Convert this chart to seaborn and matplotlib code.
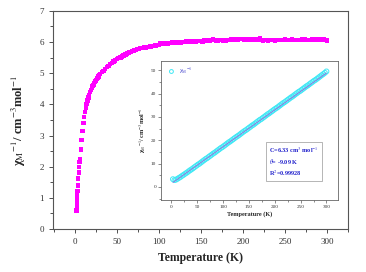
import matplotlib

matplotlib.use("Agg")
import matplotlib.pyplot as plt
import pandas as pd
import seaborn as sns
from matplotlib.ticker import MultipleLocator

# main curve: T (K) and y value
main_T = ([2, 2.2, 2.4, 2.6, 2.8, 3, 3.5, 4, 4.5, 5, 5.5, 6, 7, 8, 9]
          + list(range(10, 31)) + list(range(32, 301, 2)))
main_y = [
    0.60, 0.72, 0.85, 0.98, 1.10, 1.22, 1.40, 1.62, 1.82, 2.00,
    2.15, 2.25, 2.55, 2.85, 3.15,
    3.40, 3.60, 3.76, 3.90, 4.02, 4.13, 4.22, 4.31, 4.39, 4.46,
    4.52, 4.58, 4.63, 4.68, 4.73, 4.77, 4.81, 4.85, 4.89, 4.93, 4.97,
    5.03, 5.08, 5.14, 5.19, 5.24,
    5.29, 5.33, 5.37, 5.41, 5.45, 5.48, 5.51, 5.54, 5.57, 5.60,
    5.63, 5.66, 5.68, 5.71, 5.73, 5.75, 5.77, 5.78, 5.80, 5.81,
    5.82, 5.83, 5.84, 5.85, 5.86, 5.87, 5.88, 5.89, 5.90, 5.91,
    5.95, 5.94, 5.95, 5.96, 5.95, 5.97, 5.96, 5.98, 5.97, 5.99,
    5.98, 6.00, 5.99, 6.01, 6.00, 6.02, 6.01, 6.03, 6.02, 6.01,
    6.03, 6.02, 6.04, 6.03, 6.04, 6.02, 6.05, 6.04, 6.06, 6.05,
    6.07, 6.08, 6.06, 6.05, 6.04, 6.06, 6.07, 6.05, 6.06, 6.04,
    6.07, 6.06, 6.08, 6.07, 6.09, 6.08, 6.07, 6.10, 6.09, 6.10,
    6.08, 6.07, 6.09, 6.08, 6.06, 6.09, 6.08, 6.07, 6.10, 6.11,
    6.07, 6.05, 6.06, 6.07, 6.05, 6.06, 6.07, 6.06, 6.05, 6.07,
    6.06, 6.07, 6.06, 6.07, 6.08, 6.07, 6.06, 6.07, 6.08, 6.07,
    6.06, 6.07, 6.06, 6.07, 6.08, 6.07, 6.08, 6.07, 6.06, 6.07,
    6.08, 6.07, 6.08, 6.09, 6.08, 6.07, 6.08, 6.09, 6.07, 6.05,
]

# inset: inverse susceptibility and Curie-Weiss fit
inset_T = list(range(3, 301, 3))
inset_y = [
    3.3, 2.9, 3.1, 3.5, 3.9, 4.3, 4.8, 5.2, 5.7, 6.1,
    6.6, 7.1, 7.5, 8.0, 8.5, 9.0, 9.5, 9.9, 10.4, 10.9,
    11.4, 11.9, 12.3, 12.8, 13.3, 13.8, 14.3, 14.7, 15.2, 15.7,
    16.2, 16.7, 17.1, 17.6, 18.1, 18.6, 19.1, 19.5, 20.0, 20.5,
    21.0, 21.5, 21.9, 22.4, 22.9, 23.4, 23.9, 24.3, 24.8, 25.3,
    25.8, 26.3, 26.7, 27.2, 27.7, 28.2, 28.7, 29.1, 29.6, 30.1,
    30.6, 31.1, 31.5, 32.0, 32.5, 33.0, 33.5, 33.9, 34.4, 34.9,
    35.4, 35.9, 36.3, 36.8, 37.3, 37.8, 38.3, 38.7, 39.2, 39.7,
    40.2, 40.7, 41.1, 41.6, 42.1, 42.6, 43.1, 43.5, 44.0, 44.5,
    45.0, 45.5, 45.9, 46.4, 46.9, 47.4, 47.9, 48.4, 48.9, 49.5,
]
fit_T = [3, 300]
fit_y = [1.9, 48.8]
fit_text = "C=6.33 cm$^{3}$ mol$^{-1}$\n$\\theta$= -9.09 K\nR$^{2}$=0.99928"
ylab = "χ$_{\\rm M}$$^{-1}$/ cm$^{-3}$mol$^{-1}$"

sns.set_theme(style="white")
plt.rcParams["font.family"] = ["Liberation Serif", "DejaVu Serif"]
plt.rcParams["mathtext.fontset"] = "stix"

main_df = pd.DataFrame({"T": main_T, "y": main_y})
inset_df = pd.DataFrame({"T": inset_T, "y": inset_y})
fit_df = pd.DataFrame({"T": fit_T, "y": fit_y})

fig = plt.figure(figsize=(3.66, 2.72), dpi=100)
ax = fig.add_axes([0.145, 0.158, 0.806, 0.802])
sns.scatterplot(data=main_df, x="T", y="y", ax=ax, marker="s", s=10,
                color="#ff00ff", edgecolor="none", linewidth=0)
ax.set_xlim(-26, 325)
ax.set_ylim(0, 7)
ax.xaxis.set_major_locator(MultipleLocator(50))
ax.xaxis.set_minor_locator(MultipleLocator(25))
ax.yaxis.set_major_locator(MultipleLocator(1))
ax.yaxis.set_minor_locator(MultipleLocator(0.5))
ax.tick_params(which="both", direction="out", bottom=True, left=True,
               labelsize=6.5, colors="#333333", width=0.6)
ax.tick_params(which="major", length=3)
ax.tick_params(which="minor", length=2)
ax.set_xlabel("Temperature (K)", fontsize=8.5, fontweight="bold", labelpad=4)
ax.set_ylabel(ylab, fontsize=9, fontweight="bold", labelpad=8)
for s in ax.spines.values():
    s.set_color("#555555")
    s.set_linewidth(0.8)

ax2 = fig.add_axes([0.44, 0.265, 0.483, 0.511])
sns.scatterplot(data=inset_df, x="T", y="y", ax=ax2, marker="o", s=12,
                facecolors="none", edgecolors="#40e8f5", linewidth=0.7,
                label="χ$_{\\rm M}$$^{-1}$")
sns.lineplot(data=fit_df, x="T", y="y", ax=ax2, color="#9966dd",
             linewidth=0.6)
ax2.set_xlim(-20, 322)
ax2.set_ylim(-5.6, 54)
ax2.xaxis.set_major_locator(MultipleLocator(50))
ax2.xaxis.set_minor_locator(MultipleLocator(25))
ax2.yaxis.set_major_locator(MultipleLocator(10))
ax2.yaxis.set_minor_locator(MultipleLocator(5))
ax2.tick_params(which="both", direction="out", bottom=True, left=True,
                labelsize=3.8, colors="#333333", width=0.4, pad=1.5)
ax2.tick_params(which="major", length=2)
ax2.tick_params(which="minor", length=1.2)
ax2.set_xlabel("Temperature (K)", fontsize=4.5, fontweight="bold", labelpad=2)
ax2.set_ylabel(ylab, fontsize=4.4, fontweight="bold", labelpad=2)
for s in ax2.spines.values():
    s.set_color("#666666")
    s.set_linewidth(0.6)
ax2.legend(loc="upper left", frameon=False, fontsize=4.4,
           labelcolor="#4444cc", handletextpad=0.3, borderaxespad=0.3,
           markerscale=0.8)
ax2.text(0.61, 0.395, fit_text, transform=ax2.transAxes, fontsize=4.5,
         fontweight="bold", color="#2222cc", va="top", ha="left",
         linespacing=1.3,
         bbox=dict(boxstyle="square,pad=0.5", fc="white", ec="#999999", lw=0.5))

fig.savefig("out.png", dpi=100)
